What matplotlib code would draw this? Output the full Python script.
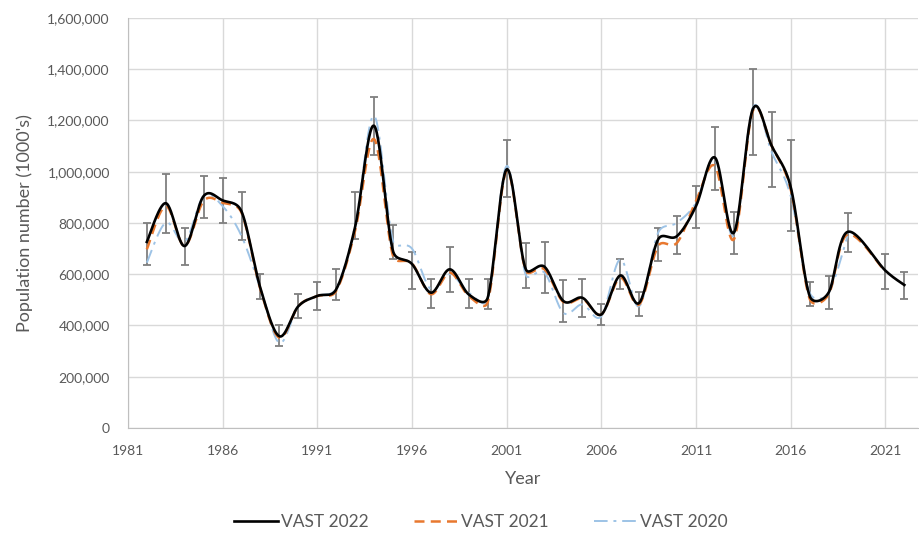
import numpy as np
from matplotlib import pyplot as plt
from matplotlib.ticker import FuncFormatter

# survey years (no survey in 2020)
years_2022 = [1982, 1983, 1984, 1985, 1986, 1987, 1988, 1989, 1990, 1991,
              1992, 1993, 1994, 1995, 1996, 1997, 1998, 1999, 2000, 2001,
              2002, 2003, 2004, 2005, 2006, 2007, 2008, 2009, 2010, 2011,
              2012, 2013, 2014, 2015, 2016, 2017, 2018, 2019, 2021, 2022]
years_2021 = years_2022[:-1]
years_2020 = years_2022[:-2]

# population estimates, thousands of thousands
vast_2022 = [726, 877, 710, 905, 888, 845, 545, 358, 475, 515,
             541, 785, 1179, 690, 640, 528, 619, 521, 508, 1009,
             621, 629, 495, 508, 443, 595, 488, 736, 749, 866,
             1055, 762, 1244, 1100, 940, 515, 528, 765, 614, 558]
vast_2021 = [697, 866, 710, 886, 879, 840, 540, 352, 475, 515,
             535, 770, 1127, 671, 642, 522, 606, 515, 491, 1003,
             616, 619, 491, 504, 443, 586, 482, 710, 723, 886,
             1022, 736, 1237, 1100, 931, 504, 521, 755, 610]
vast_2020 = [645, 801, 726, 905, 866, 749, 545, 332, 475, 515,
             545, 790, 1218, 729, 700, 541, 600, 528, 500, 1022,
             599, 606, 449, 482, 436, 658, 475, 762, 801, 879,
             1048, 749, 1250, 1075, 905, 528, 528, 749]

# 95% interval of VAST 2022
ci_low = [636, 761, 636, 818, 801, 735, 502, 319, 430, 462,
          499, 736, 1065, 658, 541, 469, 532, 469, 465, 903,
          547, 528, 413, 434, 401, 541, 436, 651, 680, 782,
          929, 677, 1065, 942, 768, 475, 465, 686, 541, 502]
ci_high = [800, 990, 782, 982, 974, 922, 599, 400, 521, 569,
           622, 922, 1292, 792, 688, 580, 707, 580, 580, 1124,
           723, 727, 576, 580, 482, 658, 532, 779, 827, 944,
           1175, 844, 1400, 1231, 1123, 569, 593, 840, 680, 610]


def smooth(ax, xs, ys, n=30):
    # excel style smoothed line, worked out in pixel space
    p = ax.transData.transform(np.column_stack([xs, ys]))
    p = np.vstack([p[0], p, p[-1]])
    out = []
    t = np.linspace(0, 1, n)[:, None]
    for i in range(1, len(p) - 2):
        b0 = p[i]
        b3 = p[i + 1]
        d12 = np.hypot(*(b3 - b0))
        d02 = np.hypot(*(p[i + 1] - p[i - 1]))
        d13 = np.hypot(*(p[i + 2] - p[i]))
        f1 = 1 / 6 if d02 / 6 < d12 / 2 else d12 / (2 * d02)
        f2 = 1 / 6 if d13 / 6 < d12 / 2 else d12 / (2 * d13)
        b1 = b0 + (p[i + 1] - p[i - 1]) * f1
        b2 = b3 - (p[i + 2] - p[i]) * f2
        seg = ((1 - t) ** 3) * b0 + 3 * ((1 - t) ** 2) * t * b1 + 3 * (1 - t) * t ** 2 * b2 + t ** 3 * b3
        out.append(seg)
    out = ax.transData.inverted().transform(np.vstack(out))
    return out[:, 0], out[:, 1]


plt.rcParams['font.family'] = ['Lato', 'DejaVu Sans']
fig = plt.figure(figsize=(9.2, 5.34), dpi=100)
ax = fig.add_axes([0.139, 0.1985, 0.859, 0.768])
ax.set_xlim(1981, 2022.73)
ax.set_ylim(0, 1600000)

k = 1000
y22 = np.array(vast_2022) * k
lo = np.array(ci_low) * k
hi = np.array(ci_high) * k

ax.errorbar(years_2022, y22, yerr=[y22 - lo, hi - y22], fmt='none',
            ecolor='#7f7f7f', elinewidth=1.3, capsize=3, capthick=1.3, zorder=2)

x, y = smooth(ax, years_2020, np.array(vast_2020) * k)
ax.plot(x, y, color='#9dc3e6', lw=1.4, dashes=(7, 3, 1.5, 3), label='VAST 2020', zorder=3)
x, y = smooth(ax, years_2021, np.array(vast_2021) * k)
ax.plot(x, y, color='#e8782f', lw=1.8, dashes=(4, 2.5), label='VAST 2021', zorder=4)
x, y = smooth(ax, years_2022, y22)
ax.plot(x, y, color='black', lw=1.9, label='VAST 2022', zorder=5)

ax.set_xticks(range(1981, 2022, 5))
ax.set_yticks(range(0, 1600001, 200000))
ax.yaxis.set_major_formatter(FuncFormatter(lambda v, pos: f'{int(v):,}'))
ax.grid(True, color='#d9d9d9', lw=1)
ax.set_axisbelow(True)
for side in ['top', 'right']:
    ax.spines[side].set_visible(False)
for side in ['left', 'bottom']:
    ax.spines[side].set_color('#bfbfbf')
ax.tick_params(length=0, labelsize=10, labelcolor='#595959')
ax.tick_params(axis='x', pad=12)
ax.tick_params(axis='y', pad=13)
ax.set_xlabel('Year', fontsize=13, color='#595959', labelpad=10)
ax.set_ylabel("Population number (1000's)", fontsize=13, color='#595959', labelpad=10)

handles, labels = ax.get_legend_handles_labels()
leg = fig.legend(handles[::-1], labels[::-1], loc='lower center', bbox_to_anchor=(0.523, -0.022),
                 ncol=3, frameon=False, fontsize=12.5, handlelength=2.5, handletextpad=0.2,
                 columnspacing=2.6)
for t in leg.get_texts():
    t.set_color('#595959')

fig.savefig('out.png', dpi=100)
